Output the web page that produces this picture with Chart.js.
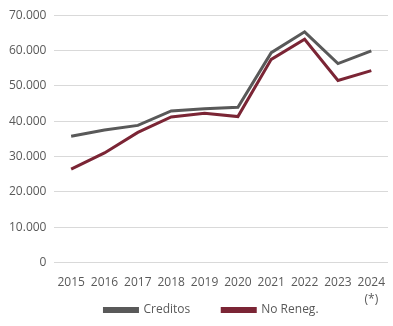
<!DOCTYPE html>
<html lang="es">
<head>
<meta charset="UTF-8">
<title>Creditos</title>
<script src="https://cdn.jsdelivr.net/npm/chart.js"></script>
<style>
    body { margin: 0; background: #fff; }
    #wrap { width: 393px; height: 326px; }
</style>
</head>
<body>
<div id="wrap"><canvas id="chart" width="393" height="326"></canvas></div>
<script>
// datos
const anios = ['2015', '2016', '2017', '2018', '2019', '2020', '2021', '2022', '2023', ['2024', '(*)']];
const creditos = [35700, 37500, 38800, 42900, 43500, 43900, 59400, 65300, 56300, 59900];
const noReneg = [26400, 31000, 36800, 41200, 42200, 41300, 57500, 63200, 51500, 54300];
const ticksY = [0, 10000, 20000, 30000, 40000, 50000, 60000, 70000];

const fuente = { family: 'Open Sans', size: 12 };

function formatoMiles(v) {
    return v.toString().replace(/\B(?=(\d{3})+(?!\d))/g, '.');
}

// la leyenda usa padding grande para separar los items; la movemos a su sitio
// (el legend recorta a su propia caja, por eso el bottom queda al fondo)
const moverLeyenda = {
    id: 'moverLeyenda',
    afterLayout(chart) {
        const leg = chart.legend;
        const pad = leg.options.labels.padding;
        leg.top = 304 - pad;
        leg.bottom = chart.height;
        leg.left += 17;
        leg.right += 17;
    }
};

new Chart(document.getElementById('chart').getContext('2d'), {
    type: 'line',
    data: {
        labels: anios,
        datasets: [
            {
                label: 'Creditos',
                data: creditos,
                borderColor: '#595959',
                backgroundColor: '#595959',
                borderWidth: 3,
                pointRadius: 0,
                tension: 0
            },
            {
                label: 'No Reneg.',
                data: noReneg,
                borderColor: '#7b2535',
                backgroundColor: '#7b2535',
                borderWidth: 3,
                pointRadius: 0,
                tension: 0
            }
        ]
    },
    options: {
        responsive: false,
        animation: false,
        layout: { padding: { left: 1, right: 5, top: 13, bottom: 0 } },
        scales: {
            x: {
                offset: true,
                grid: { display: false },
                border: { display: false },
                // el "(*)" baja hasta la altura de la leyenda, sin recorte
                afterFit: axis => {
                    axis.height -= 12;
                    axis._computeLabelArea = () => undefined;
                },
                ticks: { color: '#595959', font: { family: 'Open Sans', size: 12, lineHeight: 1.4 }, padding: 4, maxRotation: 0, autoSkip: false }
            },
            y: {
                min: 0,
                max: 70000,
                afterBuildTicks: axis => { axis.ticks = ticksY.map(v => ({ value: v })); },
                grid: { color: '#d9d9d9', lineWidth: 1, drawTicks: false },
                border: { display: false },
                ticks: { color: '#595959', font: fuente, padding: 8, callback: v => formatoMiles(v) }
            }
        },
        plugins: {
            legend: {
                position: 'bottom',
                maxHeight: 26,
                labels: { boxWidth: 33, boxHeight: 3, color: '#595959', font: fuente, padding: 32 }
            },
            tooltip: { enabled: false }
        }
    },
    plugins: [moverLeyenda]
});
</script>
</body>
</html>
